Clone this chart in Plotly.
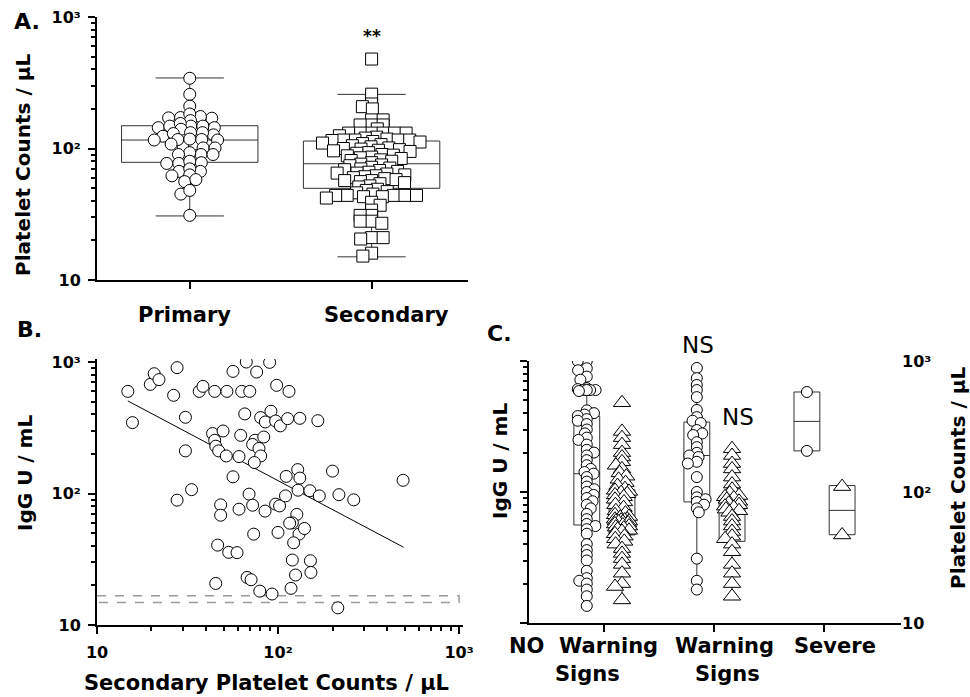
import numpy as np
import plotly.graph_objects as go

W, H = 970, 697
FONT = "DejaVu Sans"

# ---------------- Panel A data ----------------
A_CATEGORIES = ["Primary", "Secondary"]
A_PRIMARY = [342, 258, 210, 170, 171, 172, 175, 183, 163, 144, 144, 148, 148, 148, 155, 140,
             124, 127, 130, 132, 132, 105, 108, 117, 116, 116, 117, 118, 108, 101, 101, 90, 93,
             90, 90, 77, 78, 80, 77, 67, 67, 70, 63, 56, 58, 62, 45, 48, 31]
A_SECONDARY = [479, 259, 218, 208, 200, 165, 165, 151, 151, 151, 141, 131, 131, 131, 131, 131,
               131, 125, 122, 120, 118, 116, 116, 116, 116, 115,
               113, 112, 110, 109, 107, 105, 103, 101, 100, 99, 98, 97, 96, 95, 93, 92, 90, 89,
               88, 86, 85, 84, 82, 81, 80, 78,
               76, 75, 74, 72, 71, 70, 69, 68, 67, 66, 65, 65, 64, 63, 62, 61, 60, 59, 58, 57,
               57, 56, 55, 54, 52, 51,
               49, 48, 47, 46, 45, 44, 44, 44, 44, 44, 43, 43, 42, 39, 37, 34, 31, 31, 28, 28,
               27, 21, 21, 20.5, 16, 15.2]
A_Q1 = [78.5, 49.8]
A_MEDIAN = [116, 76.6]
A_Q3 = [149, 114]
A_LOW = [30.7, 15.0]
A_HIGH = [344, 258]

# ---------------- Panel B data ----------------
B_PLATELETS = [14.8, 15.7, 19.7, 20.7, 22.0, 27.7, 26.5, 30.8, 30.8, 33.3,
               27.7, 36.7, 38.5, 44.7, 52.2, 56.4, 63.0, 69.8, 66.8, 76.2,
               89.9, 98.3, 115, 65.5, 62.2, 80.2, 91.4, 85.1, 97.0, 103,
               113, 132, 166, 43.5, 44.7, 49.7, 45.3, 47.0, 51.8, 60.9,
               74.6, 83.4, 72.4, 78.5, 80.2, 74.0, 56.4, 48.2, 48.2, 60.9,
               69.2, 72.4, 84.8, 97.0, 102, 110, 111, 128.5, 132, 129,
               150, 169, 200, 217, 262, 491, 127, 120, 116, 130.6,
               140, 100, 122, 46.4, 53.4, 59.4, 73.4, 120, 125, 151,
               152, 67.5, 71.0, 45.3, 79.3, 92.7, 118, 214]
B_IGG = [598, 346, 676, 815, 735, 906, 558, 380, 211, 107,
         89, 598, 653, 598, 598, 849, 598, 598, 1000, 839,
         994, 665, 598, 403, 277, 378, 422, 350, 356, 327,
         371, 373, 358, 286, 254, 299, 229, 211, 193, 191,
         254, 269, 236, 220, 193, 172, 134, 82, 68.4, 76.0,
         98.9, 81.5, 73.5, 83.0, 80.5, 95.9, 135, 152, 131, 106,
         105, 95.9, 148, 98, 89.5, 126, 69.3, 59.8, 59.5, 49.1,
         54.2, 50.6, 42.2, 40.5, 35.7, 35.5, 49.1, 31.2, 24.0, 30.8,
         25.1, 23.0, 22.1, 20.7, 18.1, 17.2, 19.0, 13.5]
B_TREND_X = [14.8, 494]
B_TREND_Y = [506, 39]
B_LIMITS = [16.7, 14.8]

# ---------------- Panel C data ----------------
C_CATEGORIES = ["NO\u00a0\u00a0Warning", "Signs", "Warning", "Signs", "Severe"]
C_IGG_NOWS = [1000, 1000, 880, 850, 760, 720, 620, 610, 600, 600, 600, 600, 590, 420, 400, 390,
              380, 360, 350, 330, 300, 280, 260, 250, 230, 210, 200, 190, 175, 160, 150, 142,
              138, 130, 120, 110, 105, 100, 95, 90, 85, 80, 75, 68, 62, 57, 55, 52, 48, 40, 36,
              33, 30, 25, 22, 21, 20, 18, 16, 13.5]
C_IGG_WS = [885, 740, 656, 600, 530, 423, 373, 350, 336, 297, 280, 272, 240, 220, 199, 190,
            185, 170, 165, 130, 100, 91, 88, 84, 80, 75, 70, 31, 21, 18]
C_IGG_SEV = [580, 206]
C_PLT_NOWS = [480, 290, 260, 230, 200, 185, 170, 160, 150, 140, 132, 125, 118, 112, 106,
              103, 101, 99, 97, 95, 92, 88, 84, 80, 76, 72, 69, 67, 65, 64,
              62, 62, 61, 61, 60, 60, 59, 59, 58, 57, 56, 55, 54, 53, 52,
              51, 50, 48, 46, 44, 42, 40, 37, 34, 31, 28, 24, 20, 19, 15]
C_PLT_WS = [214, 190, 165, 150, 130, 115, 105, 98, 94, 92, 90, 88, 85, 82, 80, 78, 76, 74,
            72, 70, 65, 60, 55, 50, 46, 44, 40, 35, 28, 24, 20, 16]
C_PLT_SEV = [110, 47]
C_IGG_Q1 = [56, 84, 206]
C_IGG_MED = [138, 190, 346]
C_IGG_Q3 = [380, 342, 580]
C_IGG_LOW = [13.4, 17.9, 206]
C_IGG_HIGH = [980, 885, 580]
C_PLT_Q1 = [47, 42, 47.2]
C_PLT_MED = [63, 76.7, 72.4]
C_PLT_Q3 = [104, 93, 112]
C_PLT_LOW = [15, 15.8, 47.2]
C_PLT_HIGH = [292, 214, 112]

LOGVALS = [10, 100, 1000]
LOGTEXT = ["10", "10\u00b2", "10\u00b3"]


def px(x, y):
    return x / W, 1 - y / H


# layout geometry (pixels -> paper)
A_XDOM = [97 / W, 468 / W]; A_XR = [-0.51, 1.53]
A_YDOM = [1 - 280 / H, 1 - 17 / H]; A_YR = [1, 3]
B_XDOM = [97 / W, 463 / W]; B_XR = [1, 3.022]
B_YDOM = [1 - 625 / H, 1 - 359 / H]; B_YR = [1, 3.023]
C_XDOM = [529 / W, 901 / W]; C_XR = [-0.68, 2.7]
C_YDOM = [1 - 623 / H, 1 - 361 / H]; C_YR = [1, 3]


def scale(dom, rng, size):
    return (dom[1] - dom[0]) * size / (rng[1] - rng[0])


def swarm(values, ppd, ppu, ax, ay, maxoff=None):
    v = np.log10(np.asarray(values, float)) * ppd
    k = ax / ay
    order = np.argsort(-v, kind="stable")
    pxs, pys = [], []
    out = np.zeros(len(v))
    for n, i in enumerate(order):
        y = v[i] * k
        cands = [0.0]
        for qx, qy in zip(pxs, pys):
            dy = abs(qy - y)
            if dy < ax:
                dx = (ax * ax - dy * dy) ** 0.5
                cands += [qx + dx, qx - dx]
        sgn = 1 if n % 2 else -1
        cands.sort(key=lambda c: (round(abs(c), 4), sgn * c))
        chosen = None
        for c in cands:
            if maxoff is not None and abs(c) > maxoff + 1e-9:
                continue
            if all((c - qx) ** 2 + (y - qy) ** 2 >= ax * ax - 1e-6 for qx, qy in zip(pxs, pys)):
                chosen = c
                break
        if chosen is None:
            grid = np.linspace(-maxoff, maxoff, 17)

            def mind(c):
                return min(((c - qx) ** 2 + (y - qy) ** 2 for qx, qy in zip(pxs, pys)), default=1e9)
            chosen = max(grid, key=lambda c: (round(mind(c), 3), -abs(c)))
        pxs.append(chosen)
        pys.append(y)
        out[i] = chosen / ppu
    return out


fig = go.Figure()
MK = dict(color="white", line=dict(color="black", width=1))
BOXLINE = dict(color="#333333", width=1)

# ---------- Panel A ----------
ppuA = scale(A_XDOM, A_XR, W)
ppdA = scale(A_YDOM, A_YR, H)
fig.add_trace(go.Box(x=[0, 1], q1=A_Q1, median=A_MEDIAN, q3=A_Q3, lowerfence=A_LOW,
                     upperfence=A_HIGH, width=0.75, whiskerwidth=0.5, line=BOXLINE,
                     fillcolor="rgba(0,0,0,0)", boxpoints=False, xaxis="x", yaxis="y",
                     hoverinfo="skip"))
offP = swarm(A_PRIMARY, ppdA, ppuA, 12, 5.5)
fig.add_trace(go.Scatter(x=0 + offP, y=A_PRIMARY, mode="markers", xaxis="x", yaxis="y",
                         marker=dict(symbol="circle", size=12, **MK)))
offS = swarm(A_SECONDARY, ppdA, ppuA, 11.5, 4.5)
fig.add_trace(go.Scatter(x=1 + offS, y=A_SECONDARY, mode="markers", xaxis="x", yaxis="y",
                         marker=dict(symbol="square", size=12, **MK)))

# ---------- Panel B ----------
fig.add_trace(go.Scatter(x=[10, 1000, 1000, 10], y=[B_LIMITS[0], B_LIMITS[0], B_LIMITS[1], B_LIMITS[1]],
                         mode="lines", line=dict(color="#9a9a9a", width=1.5, dash="dash"),
                         xaxis="x2", yaxis="y2"))
fig.add_trace(go.Scatter(x=B_TREND_X, y=B_TREND_Y, mode="lines", line=dict(color="black", width=1),
                         xaxis="x2", yaxis="y2"))
fig.add_trace(go.Scatter(x=B_PLATELETS, y=B_IGG, mode="markers", xaxis="x2", yaxis="y2",
                         marker=dict(symbol="circle", size=12, **MK)))

# ---------- Panel C ----------
ppuC = scale(C_XDOM, C_XR, W)
ppdC = scale(C_YDOM, C_YR, H)
DL, DR = -0.155, 0.165
fig.add_trace(go.Box(x=[i + DL for i in range(3)], q1=C_IGG_Q1, median=C_IGG_MED, q3=C_IGG_Q3,
                     lowerfence=C_IGG_LOW, upperfence=C_IGG_HIGH, width=0.235, whiskerwidth=0,
                     line=BOXLINE, fillcolor="rgba(0,0,0,0)", boxpoints=False,
                     xaxis="x3", yaxis="y3", hoverinfo="skip"))
fig.add_trace(go.Box(x=[i + DR for i in range(3)], q1=C_PLT_Q1, median=C_PLT_MED, q3=C_PLT_Q3,
                     lowerfence=C_PLT_LOW, upperfence=C_PLT_HIGH, width=0.235, whiskerwidth=0,
                     line=BOXLINE, fillcolor="rgba(0,0,0,0)", boxpoints=False,
                     xaxis="x3", yaxis="y4", hoverinfo="skip"))
for i, vals in enumerate([C_IGG_NOWS, C_IGG_WS, C_IGG_SEV]):
    off = swarm(vals, ppdC, ppuC, 10, 4, maxoff=9)
    fig.add_trace(go.Scatter(x=i + DL + off, y=vals, mode="markers", xaxis="x3", yaxis="y3",
                             marker=dict(symbol="circle", size=11, **MK)))
for i, vals in enumerate([C_PLT_NOWS, C_PLT_WS, C_PLT_SEV]):
    off = swarm(vals, ppdC, ppuC, 12, 4, maxoff=7)
    fig.add_trace(go.Scatter(x=i + DR + off, y=vals, mode="markers", xaxis="x3", yaxis="y4",
                             marker=dict(symbol="triangle-up", size=15, **MK)))

# ---------- axes ----------
TICKF = dict(family=FONT, size=16, color="black", weight="bold")
MINOR = [m * 10 ** e for e in (1, 2) for m in range(2, 10)]
base = dict(showline=True, linecolor="black", linewidth=2, ticks="outside", tickcolor="black",
            tickwidth=2, ticklen=7, showgrid=False, zeroline=False, tickfont=TICKF,
            automargin=False)
minor = dict(tickvals=MINOR, ticks="outside", ticklen=4, tickwidth=1.5, tickcolor="black",
             showgrid=False)

fig.update_layout(
    template="none",
    width=W, height=H, margin=dict(l=0, r=0, t=0, b=0, pad=0, autoexpand=False),
    showlegend=False,
    plot_bgcolor="white", paper_bgcolor="white", boxmode="overlay",
    font=dict(family=FONT, color="black"),
    xaxis=dict(base, domain=A_XDOM, range=A_XR, tickvals=[0, 1], showticklabels=False,
               anchor="y"),
    yaxis=dict(base, domain=A_YDOM, type="log", range=A_YR, tickvals=LOGVALS, ticktext=LOGTEXT,
               minor=minor, anchor="x", ticklabelstandoff=4),
    xaxis2=dict(base, domain=B_XDOM, type="log", range=B_XR, tickvals=LOGVALS, ticktext=LOGTEXT,
                minor=minor, anchor="y2", ticklabelstandoff=5),
    yaxis2=dict(base, domain=B_YDOM, type="log", range=B_YR, tickvals=LOGVALS, ticktext=LOGTEXT,
                minor=minor, anchor="x2", ticklabelstandoff=4),
    xaxis3=dict(base, domain=C_XDOM, range=C_XR, tickvals=[0, 1, 2], showticklabels=False,
                anchor="y3"),
    yaxis3=dict(base, domain=C_YDOM, type="log", range=C_YR, tickvals=LOGVALS,
                showticklabels=False, minor=minor, anchor="x3"),
    yaxis4=dict(overlaying="y3", side="right", anchor="x3", type="log", range=C_YR,
                showline=False, ticks="", showgrid=False, zeroline=False, tickvals=LOGVALS,
                ticktext=LOGTEXT, tickfont=TICKF, ticklabelstandoff=0, automargin=False),
)

ann = []


def add_text(text, x, y, size=21, bold=True, angle=0, xanchor="center"):
    ax_, ay_ = px(x, y)
    ann.append(dict(text=text, x=ax_, y=ay_,
                    xref="paper", yref="paper", showarrow=False,
                    xanchor=xanchor, yanchor="middle", textangle=angle,
                    font=dict(family=FONT, size=size, color="black",
                              weight="bold" if bold else "normal")))


add_text("A.", 12, 21, size=22, xanchor="left")
add_text("B.", 15, 329, size=22, xanchor="left")
add_text("C.", 485, 333, size=22, xanchor="left")
add_text("**", 372, 36, size=17)
add_text(A_CATEGORIES[0], 184, 315)
add_text(A_CATEGORIES[1], 386, 315)
add_text("Platelet Counts / µL", 23, 165, size=20, angle=-90)
add_text("IgG U / mL", 25, 473, size=20, angle=-90)
add_text("Secondary Platelet Counts / µL", 266, 683)
add_text(C_CATEGORIES[0], 583, 646)
add_text(C_CATEGORIES[1], 587, 674)
add_text(C_CATEGORIES[2], 724, 646)
add_text(C_CATEGORIES[3], 727, 674)
add_text(C_CATEGORIES[4], 835, 646)
add_text("IgG U / mL", 500, 461, size=20, angle=-90)
add_text("Platelet Counts / µL", 958, 478, size=20, angle=-90)
add_text("NS", 698, 345, size=23, bold=False)
add_text("NS", 738, 417, size=23, bold=False)
fig.update_layout(annotations=ann)

fig.write_html("out.html", config={"displayModeBar": False},
               post_script="document.body.style.margin='0';document.body.style.overflow='hidden';")
